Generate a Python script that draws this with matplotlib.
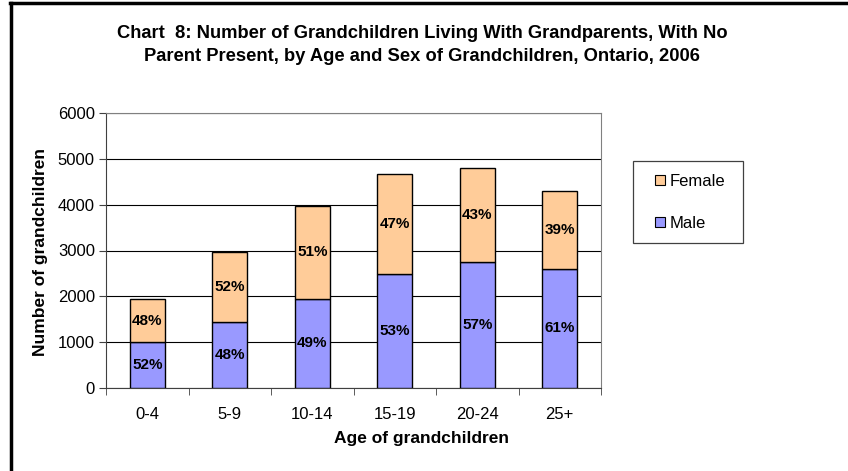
import matplotlib
matplotlib.use("Agg")
import matplotlib.pyplot as plt
from matplotlib.lines import Line2D
from matplotlib.patches import Patch, Rectangle
import numpy as np

plt.rcParams["font.family"] = ["Liberation Sans", "DejaVu Sans"]

ages = ["0-4", "5-9", "10-14", "15-19", "20-24", "25+"]
male = [1000, 1430, 1950, 2480, 2740, 2600]
female = [935, 1545, 2030, 2190, 2050, 1690]
male_pct = ["52%", "48%", "49%", "53%", "57%", "61%"]
female_pct = ["48%", "52%", "51%", "47%", "43%", "39%"]

male_color = "#9999FF"
female_color = "#FFCC99"

fig = plt.figure(figsize=(8.48, 4.71), dpi=100)
ax = fig.add_axes([106 / 848, 1 - 388 / 471, 495 / 848, 275 / 471])

x = np.arange(len(ages))
w = 0.42
bm = ax.bar(x, male, w, color=male_color, edgecolor="black", linewidth=1, zorder=3)
bf = ax.bar(x, female, w, bottom=male, color=female_color, edgecolor="black",
            linewidth=1, zorder=3)

for i in range(len(ages)):
    ax.text(x[i], male[i] / 2, male_pct[i], ha="center", va="center",
            fontsize=11, fontweight="bold", zorder=4)
    ax.text(x[i], male[i] + female[i] / 2, female_pct[i], ha="center", va="center",
            fontsize=11, fontweight="bold", zorder=4)

ax.set_xlim(-0.5, len(ages) - 0.5)
ax.set_ylim(0, 6000)
ax.set_yticks(np.arange(0, 6001, 1000))
ax.yaxis.grid(True, color="black", linewidth=0.8, zorder=0)
ax.set_axisbelow(True)

ax.set_xticks(x)
ax.set_xticklabels(ages, fontsize=12)
ax.tick_params(axis="x", which="major", length=0, pad=14)
ax.set_xticks(np.arange(-0.5, len(ages), 1), minor=True)
ax.tick_params(axis="x", which="minor", length=5, direction="out", color="#404040")
ax.tick_params(axis="y", labelsize=12, length=5, direction="out", color="#404040", pad=3)

for side in ["top", "right"]:
    ax.spines[side].set_color("#808080")
for side in ["left", "bottom"]:
    ax.spines[side].set_color("#404040")

fig.text(422 / 848, 1 - 438 / 471, "Age of grandchildren", ha="center", va="center",
         fontsize=12.5, fontweight="bold")
fig.text(41 / 848, 1 - 252 / 471, "Number of grandchildren", ha="center", va="center",
         rotation=90, fontsize=12.5, fontweight="bold")

fig.text(422 / 848, 1 - 45 / 471,
         "Chart  8: Number of Grandchildren Living With Grandparents, With No\n"
         "Parent Present, by Age and Sex of Grandchildren, Ontario, 2006",
         ha="center", va="center", fontsize=13.2, fontweight="bold", linespacing=1.45)

# legend box drawn separately so the inner padding can match
fig.add_artist(Rectangle((633 / 848, 1 - 243 / 471), 110 / 848, 82 / 471,
                         transform=fig.transFigure, facecolor="white",
                         edgecolor="#404040", linewidth=0.9))
handles = [Patch(facecolor=female_color, edgecolor="black", linewidth=0.8),
           Patch(facecolor=male_color, edgecolor="black", linewidth=0.8)]
leg = fig.legend(handles, ["Female", "Male"], loc="upper left",
                 bbox_to_anchor=(655 / 848, 1 - 174 / 471), fontsize=12,
                 frameon=False, handlelength=0.6, handleheight=0.6,
                 handletextpad=0.3, labelspacing=1.62, borderpad=0,
                 borderaxespad=0)

# outer frame (only top and left edges remain in the picture)
fig.add_artist(Line2D([10 / 848, 1], [1 - 3 / 471, 1 - 3 / 471], color="black",
                      linewidth=2.5, transform=fig.transFigure))
fig.add_artist(Line2D([11 / 848, 11 / 848], [0, 1 - 3 / 471], color="black",
                      linewidth=2.5, transform=fig.transFigure))

fig.savefig("out.png", dpi=100)
